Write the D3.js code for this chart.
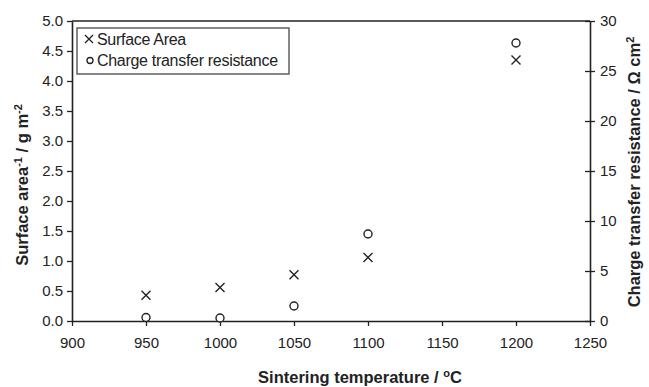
<!DOCTYPE html>
<html><head><meta charset="utf-8">
<script src="https://cdn.jsdelivr.net/npm/d3@7"></script>
<style>body{margin:0;background:#fff}svg{display:block}text{font-family:"Liberation Sans",Arial,sans-serif;fill:#222}</style>
</head><body><svg id="c" width="649" height="387"></svg>
<script>
const temperatures = [950, 1000, 1050, 1100, 1200];
const surfaceArea = [0.43, 0.56, 0.77, 1.06, 4.35];
const chargeTransferResistance = [0.35, 0.3, 1.5, 8.7, 27.8];
const xTicks = [900, 950, 1000, 1050, 1100, 1150, 1200, 1250];
const yLeftTicks = [0, 0.5, 1, 1.5, 2, 2.5, 3, 3.5, 4, 4.5, 5];
const yRightTicks = [0, 5, 10, 15, 20, 25, 30];

const svg = d3.select("#c");
const L = 72, R = 590, T = 21, B = 321;
const x = d3.scaleLinear().domain([900, 1250]).range([L, R]);
const yL = d3.scaleLinear().domain([0, 5]).range([B, T]);
const yR = d3.scaleLinear().domain([0, 30]).range([B, T]);
const ink = "#222";

svg.append("line").attr("x1", L).attr("x2", R).attr("y1", T).attr("y2", T).attr("stroke", ink).attr("stroke-width", 1.6);

const gx = svg.append("g").attr("transform", `translate(0,${B})`)
  .call(d3.axisBottom(x).tickValues(xTicks).tickFormat(d3.format("d")).tickSize(5).tickSizeOuter(0));
const gl = svg.append("g").attr("transform", `translate(${L},0)`)
  .call(d3.axisLeft(yL).tickValues(yLeftTicks).tickFormat(d3.format(".1f")).tickSize(5).tickSizeOuter(0));
const gr = svg.append("g").attr("transform", `translate(${R},0)`)
  .call(d3.axisRight(yR).tickValues(yRightTicks).tickFormat(d3.format("d")).tickSize(5).tickSizeOuter(0));
gr.selectAll(".tick line").attr("x1", -5);
[gx, gl, gr].forEach(g => {
  g.select(".domain").attr("stroke", ink).attr("stroke-width", 1.6);
  g.selectAll(".tick line").attr("stroke", ink).attr("stroke-width", 1.3);
  g.selectAll(".tick text").attr("font-size", 15).attr("fill", ink).attr("font-family", "Liberation Sans, Arial, sans-serif");
});
gx.selectAll(".tick text").attr("dy", "1.25em");
gl.selectAll(".tick text").attr("x", -9);
gr.selectAll(".tick text").attr("x", 10);

const cs = 4.5;
svg.append("g").selectAll("path").data(temperatures).join("path")
  .attr("d", (d, i) => {
    const cx = x(d), cy = yL(surfaceArea[i]);
    return `M${cx - cs},${cy - cs}L${cx + cs},${cy + cs}M${cx - cs},${cy + cs}L${cx + cs},${cy - cs}`;
  })
  .attr("stroke", ink).attr("stroke-width", 1.4).attr("fill", "none");
svg.append("g").selectAll("circle").data(temperatures).join("circle")
  .attr("cx", d => x(d)).attr("cy", (d, i) => yR(chargeTransferResistance[i])).attr("r", 4)
  .attr("fill", "#fff").attr("stroke", ink).attr("stroke-width", 1.4);

const lg = svg.append("g");
lg.append("rect").attr("x", 77).attr("y", 28).attr("width", 212).attr("height", 46)
  .attr("fill", "#fff").attr("stroke", "#555").attr("stroke-width", 1.4);
lg.append("path").attr("d", "M85,35L93,43M85,43L93,35").attr("stroke", ink).attr("stroke-width", 1.3);
lg.append("circle").attr("cx", 90).attr("cy", 60.5).attr("r", 3).attr("fill", "#fff").attr("stroke", ink).attr("stroke-width", 1.3);
lg.append("text").attr("x", 97).attr("y", 45).attr("font-size", 16).attr("letter-spacing", -0.3).text("Surface Area");
lg.append("text").attr("x", 97).attr("y", 66).attr("font-size", 16).attr("letter-spacing", -0.3).text("Charge transfer resistance");

const xt = svg.append("text").attr("x", 360).attr("y", 383).attr("text-anchor", "middle")
  .attr("font-size", 16.5).attr("font-weight", "bold");
xt.append("tspan").text("Sintering temperature / ");
xt.append("tspan").attr("font-size", 11).attr("dy", -6).text("o");
xt.append("tspan").attr("dy", 6).text("C");

const lt = svg.append("text").attr("transform", "translate(28,185) rotate(-90)").attr("text-anchor", "middle")
  .attr("font-size", 16.5).attr("font-weight", "bold");
lt.append("tspan").text("Surface area");
lt.append("tspan").attr("font-size", 11).attr("dy", -6).text("-1");
lt.append("tspan").attr("dy", 6).text(" / g m");
lt.append("tspan").attr("font-size", 11).attr("dy", -6).text("-2");

const rt = svg.append("text").attr("transform", "translate(640,172) rotate(-90)").attr("text-anchor", "middle")
  .attr("font-size", 16.5).attr("font-weight", "bold");
rt.append("tspan").text("Charge transfer resistance / Ω cm");
rt.append("tspan").attr("font-size", 11).attr("dy", -6).text("2");
</script></body></html>
